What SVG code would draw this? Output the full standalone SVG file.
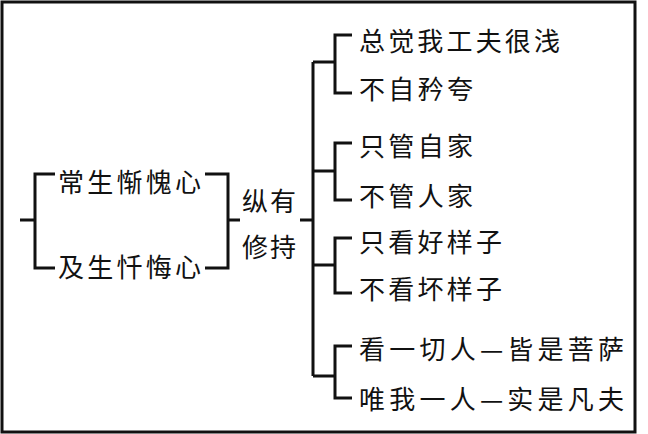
<svg xmlns="http://www.w3.org/2000/svg" width="648" height="434" viewBox="0 0 648 434">
<style>
text{font-family:"Noto Sans CJK SC","Noto Sans",sans-serif;font-size:26px;fill:#111}
.c path{fill:none;stroke:#111;stroke-width:3}
</style>
<rect x="0" y="0" width="648" height="434" fill="#fff"/>
<rect x="2" y="2" width="633" height="430" fill="none" stroke="#111" stroke-width="3"/>
<g class="c" id="connectors">
<path d="M20 220H35M55 174H35V268H55"/>
<path d="M205 174H228V268H205M228 220H240"/>
<path d="M300 220H313M313 62V376M313 62H335M313 171H335M313 265H335M313 376H335"/>
<path d="M352 35H335V93H352M352 143H335V200H352M352 238H335V293H352M352 346H335V398H352"/>
</g>
<g id="n1"><text x="58" y="192" textLength="143" lengthAdjust="spacing">常生惭愧心</text></g>
<g id="n2"><text x="58" y="277" textLength="143" lengthAdjust="spacing">及生忏悔心</text></g>
<g id="n3"><text x="242" y="211" textLength="54" lengthAdjust="spacing">纵有</text><text x="242" y="257" textLength="54" lengthAdjust="spacing">修持</text></g>
<g id="n4"><text x="359" y="51" textLength="201" lengthAdjust="spacing">总觉我工夫很浅</text></g>
<g id="n5"><text x="359" y="99" textLength="114" lengthAdjust="spacing">不自矜夸</text></g>
<g id="n6"><text x="359" y="156" textLength="114" lengthAdjust="spacing">只管自家</text></g>
<g id="n7"><text x="359" y="206" textLength="114" lengthAdjust="spacing">不管人家</text></g>
<g id="n8"><text x="359" y="252" textLength="143" lengthAdjust="spacing">只看好样子</text></g>
<g id="n9"><text x="359" y="299" textLength="143" lengthAdjust="spacing">不看坏样子</text></g>
<g id="n10"><text x="359" y="359" textLength="265" lengthAdjust="spacing">看一切人—皆是菩萨</text></g>
<g id="n11"><text x="359" y="409" textLength="265" lengthAdjust="spacing">唯我一人—实是凡夫</text></g>
</svg>
